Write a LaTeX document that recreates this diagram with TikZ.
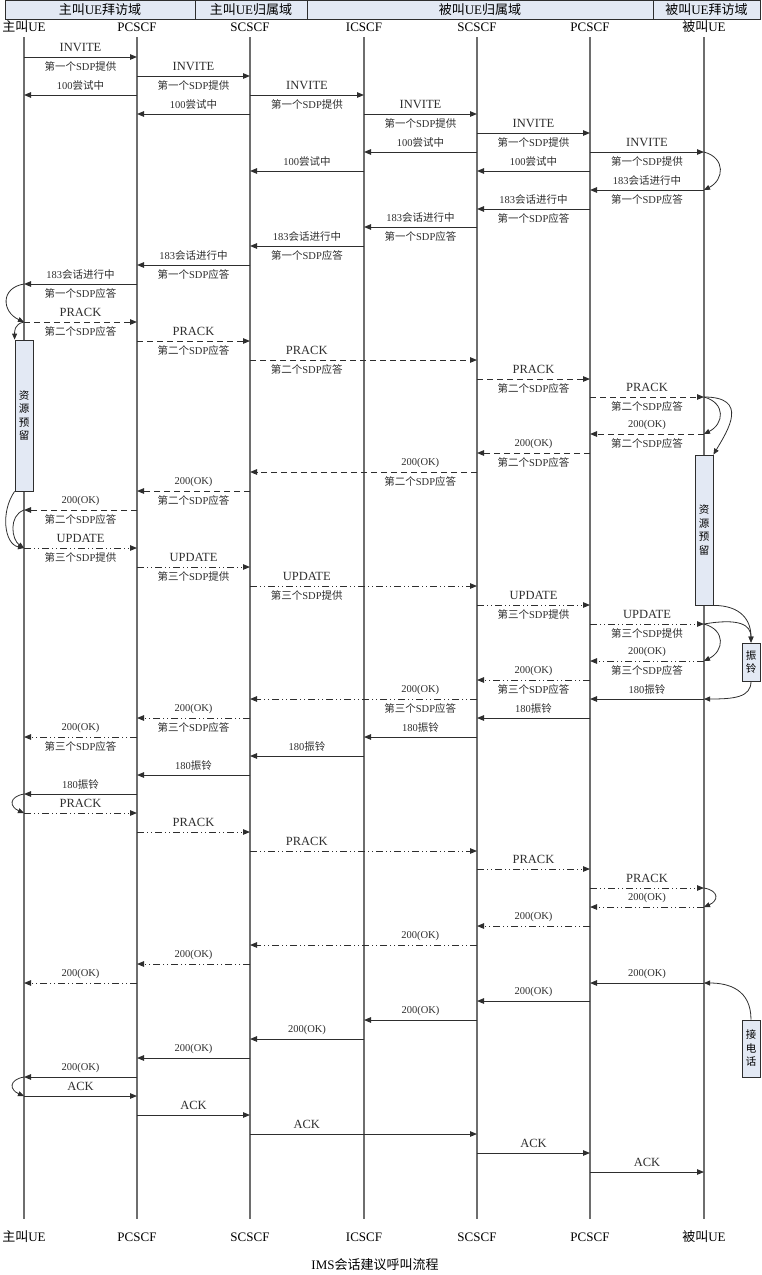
\documentclass[tikz,border=0pt]{standalone}
\usepackage{fontspec}
\setmainfont{Liberation Serif}
\newfontfamily\cjk{Noto Sans CJK SC}
\usepackage{tikz}
\usetikzlibrary{arrows.meta, calc}

\definecolor{lifegray}{HTML}{6E6E6E}
\definecolor{linegray}{HTML}{2E2E2E}
\definecolor{boxblue}{HTML}{E3E9F4}

\newcommand\zh[1]{{\cjk #1}}
\newcommand\mth[1]{{\fontsize{12.5}{14}\selectfont #1}}
\newcommand\offerA{\zh{第一个}SDP\zh{提供}}
\newcommand\ansA{\zh{第一个}SDP\zh{应答}}
\newcommand\ansB{\zh{第二个}SDP\zh{应答}}
\newcommand\offerC{\zh{第三个}SDP\zh{提供}}
\newcommand\ansC{\zh{第三个}SDP\zh{应答}}
\newcommand\trying{100\zh{尝试中}}
\newcommand\progress{183\zh{会话进行中}}
\newcommand\ringing{180\zh{振铃}}

\begin{document}
\begin{tikzpicture}[x=1pt, y=-1pt,
  dom/.style={draw=linegray, fill=boxblue, line width=0.8pt, inner sep=0pt,
    minimum height=19pt, font=\fontsize{13}{15}\selectfont},
  head/.style={font=\fontsize{13}{15}\selectfont, inner sep=1pt},
  life/.style={draw=lifegray, line width=1.2pt},
  msg/.style={draw=linegray, line width=1pt,
    -{Triangle[length=7pt,width=5.5pt]}},
  solidmsg/.style={},
  dashmsg/.style={dash pattern=on 6pt off 4pt},
  dotmsg/.style={dash pattern=on 7pt off 3pt on 1pt off 3pt on 1pt off 3pt},
  lbl/.style={font=\fontsize{10.5}{12}\selectfont, inner sep=0pt, text=linegray},
  resbox/.style={draw=linegray, fill=boxblue, line width=0.8pt, inner sep=0pt,
    minimum width=18pt, align=center, font=\cjk\fontsize{10.5}{13.5}\selectfont},
  loop/.style={draw=linegray, line width=0.8pt, -{Triangle[length=6pt,width=5pt]}}
]
  \useasboundingbox (0,0) rectangle (761,1275);

  % Domains
  \node[dom, minimum width=190pt] (domA) at (100,9.5) {\zh{主叫}UE\zh{拜访域}};
  \node[dom, minimum width=112pt] (domB) at (251,9.5) {\zh{主叫}UE\zh{归属域}};
  \node[dom, minimum width=346pt] (domC) at (480,9.5) {\zh{被叫}UE\zh{归属域}};
  \node[dom, minimum width=107pt] (domD) at (706.5,9.5) {\zh{被叫}UE\zh{拜访域}};

  % Entities, top and bottom
  \foreach \n/\x/\t in {ue1/24/\zh{主叫}UE, p1/137/PCSCF, s1/250/SCSCF, ic/364/ICSCF,
                        s2/477/SCSCF, p2/590/PCSCF, ue2/704/\zh{被叫}UE} {
    \node[head] (\n) at (\x,27) {\t};
    \node[head] (b\n) at (\x,1237) {\t};
    \draw[life] (\n |- 0,37) -- (b\n |- 0,1219);
  }

  % Resource boxes
  \node[resbox, minimum height=151pt] (resA) at (ue1 |- 0,415.5) {资\\源\\预\\留};
  \node[resbox, minimum height=150pt] (resB) at (ue2 |- 0,530) {资\\源\\预\\留};
  \node[resbox, minimum height=38pt] (ring) at (751,662) {振\\铃};
  \node[resbox, minimum height=57pt] (answ) at (751,1048.5) {接\\电\\话};

  % Messages
  \foreach \a/\b/\y/\st/\p/\la/\lb in {
    ue1/p1/57/solidmsg/.5/\mth{INVITE}/\offerA,
    p1/ue1/95/solidmsg/.5/\trying/{},
    p1/s1/76/solidmsg/.5/\mth{INVITE}/\offerA,
    s1/p1/114/solidmsg/.5/\trying/{},
    s1/ic/95/solidmsg/.5/\mth{INVITE}/\offerA,
    ic/s2/114/solidmsg/.5/\mth{INVITE}/\offerA,
    ic/s1/171/solidmsg/.5/\trying/{},
    s2/p2/133/solidmsg/.5/\mth{INVITE}/\offerA,
    s2/ic/152/solidmsg/.5/\trying/{},
    p2/ue2/152/solidmsg/.5/\mth{INVITE}/\offerA,
    p2/s2/171/solidmsg/.5/\trying/{},
    ue2/p2/190/solidmsg/.5/\progress/\ansA,
    p2/s2/209/solidmsg/.5/\progress/\ansA,
    s2/ic/227/solidmsg/.5/\progress/\ansA,
    ic/s1/246/solidmsg/.5/\progress/\ansA,
    s1/p1/265/solidmsg/.5/\progress/\ansA,
    p1/ue1/284/solidmsg/.5/\progress/\ansA,
    ue1/p1/322/dashmsg/.5/\mth{PRACK}/\ansB,
    p1/s1/341/dashmsg/.5/\mth{PRACK}/\ansB,
    s1/s2/360/dashmsg/.25/\mth{PRACK}/\ansB,
    s2/p2/379/dashmsg/.5/\mth{PRACK}/\ansB,
    p2/ue2/397/dashmsg/.5/\mth{PRACK}/\ansB,
    ue2/p2/434/dashmsg/.5/200(OK)/\ansB,
    p2/s2/453/dashmsg/.5/200(OK)/\ansB,
    s2/s1/472/dashmsg/.25/200(OK)/\ansB,
    s1/p1/491/dashmsg/.5/200(OK)/\ansB,
    p1/ue1/510/dashmsg/.5/200(OK)/\ansB,
    ue1/p1/548/dotmsg/.5/\mth{UPDATE}/\offerC,
    p1/s1/567/dotmsg/.5/\mth{UPDATE}/\offerC,
    s1/s2/586/dotmsg/.25/\mth{UPDATE}/\offerC,
    s2/p2/605/dotmsg/.5/\mth{UPDATE}/\offerC,
    p2/ue2/624/dotmsg/.5/\mth{UPDATE}/\offerC,
    ue2/p2/661/dotmsg/.5/200(OK)/\ansC,
    p2/s2/680/dotmsg/.5/200(OK)/\ansC,
    s2/s1/699/dotmsg/.25/200(OK)/\ansC,
    s1/p1/718/dotmsg/.5/200(OK)/\ansC,
    p1/ue1/737/dotmsg/.5/200(OK)/\ansC,
    ue2/p2/699/solidmsg/.5/\ringing/{},
    p2/s2/718/solidmsg/.5/\ringing/{},
    s2/ic/737/solidmsg/.5/\ringing/{},
    ic/s1/756/solidmsg/.5/\ringing/{},
    s1/p1/775/solidmsg/.5/\ringing/{},
    p1/ue1/794/solidmsg/.5/\ringing/{},
    ue1/p1/813/dotmsg/.5/\mth{PRACK}/{},
    p1/s1/832/dotmsg/.5/\mth{PRACK}/{},
    s1/s2/851/dotmsg/.25/\mth{PRACK}/{},
    s2/p2/869/dotmsg/.5/\mth{PRACK}/{},
    p2/ue2/888/dotmsg/.5/\mth{PRACK}/{},
    ue2/p2/907/dotmsg/.5/200(OK)/{},
    p2/s2/926/dotmsg/.5/200(OK)/{},
    s2/s1/945/dotmsg/.25/200(OK)/{},
    s1/p1/964/dotmsg/.5/200(OK)/{},
    p1/ue1/983/dotmsg/.5/200(OK)/{},
    ue2/p2/983/solidmsg/.5/200(OK)/{},
    p2/s2/1001/solidmsg/.5/200(OK)/{},
    s2/ic/1020/solidmsg/.5/200(OK)/{},
    ic/s1/1039/solidmsg/.5/200(OK)/{},
    s1/p1/1058/solidmsg/.5/200(OK)/{},
    p1/ue1/1077/solidmsg/.5/200(OK)/{},
    ue1/p1/1096/solidmsg/.5/\mth{ACK}/{},
    p1/s1/1115/solidmsg/.5/\mth{ACK}/{},
    s1/s2/1134/solidmsg/.25/\mth{ACK}/{},
    s2/p2/1153/solidmsg/.5/\mth{ACK}/{},
    p2/ue2/1172/solidmsg/.5/\mth{ACK}/{}%
  } {
    \draw[msg,\st] (\a |- 0,\y) -- (\b |- 0,\y);
    \path (\a |- 0,\y) -- (\b |- 0,\y)
      node[lbl, pos=\p, yshift=9.5pt] {\la}
      node[lbl, pos=\p, yshift=-9.5pt] {\lb};
  }

  % Local processing loops
  \draw[loop] (ue2 |- 0,152) .. controls +(22,6) and +(20,-10) .. (ue2 |- 0,190);
  \draw[loop] (ue1 |- 0,284) .. controls +(-24,4) and +(-22,-10) .. (ue1 |- 0,322);
  \draw[loop] (ue1 |- 0,322) .. controls +(-10,2) and +(0,-8) .. (resA.north west);
  \draw[loop] (ue2 |- 0,397) .. controls +(22,6) and +(20,-10) .. (ue2 |- 0,434);
  \draw[loop] (ue2 |- 0,397) .. controls +(45,0) and +(15,-25) .. (resB.north east);
  \draw[loop] (resA.south west) .. controls +(-14,20) and +(-20,-4) .. (ue1 |- 0,548);
  \draw[loop] (ue1 |- 0,510) .. controls +(-16,6) and +(-12,-8) .. (ue1 |- 0,548);
  \draw[loop] (ue2 |- 0,624) .. controls +(22,6) and +(20,-10) .. (ue2 |- 0,661);
  \draw[loop] (resB.south east) .. controls +(28,0) and +(0,-22) .. (ring.north);
  \draw[loop] (ue2 |- 0,624) .. controls +(35,-6) and +(0,-18) .. (ring.north);
  \draw[loop] (ring.south) .. controls +(0,16) and +(30,0) .. (ue2 |- 0,699);
  \draw[loop] (ue1 |- 0,794) .. controls +(-16,3) and +(-14,-6) .. (ue1 |- 0,813);
  \draw[loop] (ue2 |- 0,888) .. controls +(16,3) and +(14,-6) .. (ue2 |- 0,907);
  \draw[loop] (answ.north) .. controls +(0,-30) and +(25,0) .. (ue2 |- 0,983);
  \draw[loop] (ue1 |- 0,1077) .. controls +(-16,3) and +(-14,-6) .. (ue1 |- 0,1096);

  % Caption
  \node[head] (title) at (375,1265) {IMS\zh{会话建议呼叫流程}};
\end{tikzpicture}
\end{document}
